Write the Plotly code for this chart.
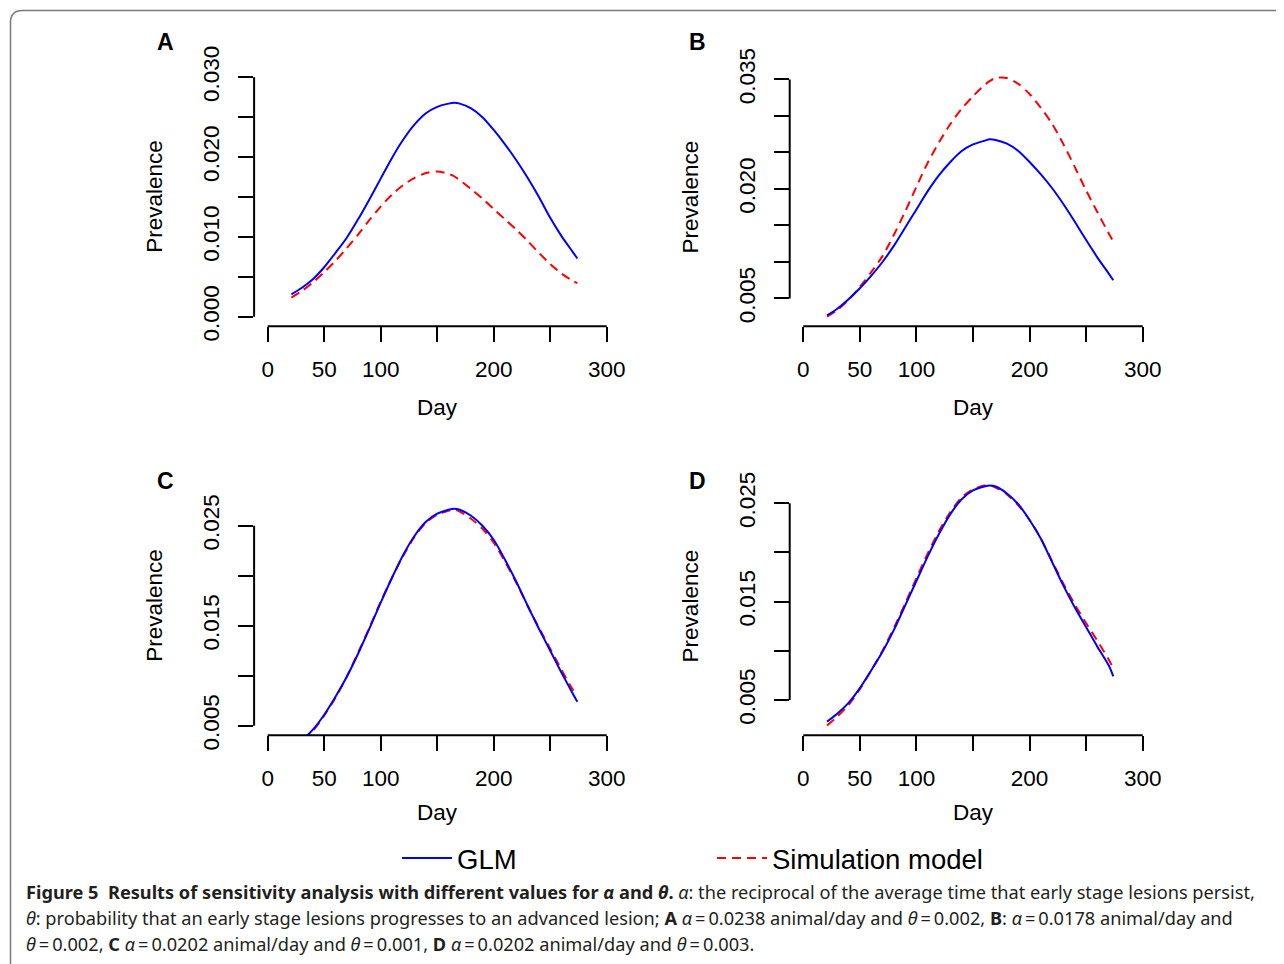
import plotly.graph_objects as go

# ---------------- data ----------------
DAYS = [21, 30, 40, 50, 60, 70, 80, 90, 100, 110, 120, 130, 140, 150, 160, 165,
        170, 180, 190, 200, 210, 220, 230, 240, 250, 260, 270, 274]

A_GLM = [0.0028, 0.0036, 0.0047, 0.0062, 0.0080, 0.0099, 0.0122, 0.0147, 0.0173, 0.0199,
         0.0222, 0.0241, 0.0255, 0.0263, 0.0267, 0.0268, 0.0267, 0.0261, 0.0250, 0.0234,
         0.0216, 0.0196, 0.0174, 0.0150, 0.0124, 0.0101, 0.0081, 0.0073]
A_SIM = [0.0024, 0.0032, 0.0043, 0.0056, 0.0070, 0.0086, 0.0103, 0.0121, 0.0138, 0.0153,
         0.0165, 0.0174, 0.0180, 0.0182, 0.0179, 0.0176, 0.0171, 0.0160, 0.0148, 0.0135,
         0.0122, 0.0109, 0.0095, 0.0080, 0.0066, 0.0054, 0.0045, 0.0042]

B_GLM = [0.0027, 0.0036, 0.0049, 0.0064, 0.0081, 0.0100, 0.0122, 0.0147, 0.0172, 0.0197,
         0.0219, 0.0237, 0.0252, 0.0261, 0.0266, 0.0268, 0.0267, 0.0262, 0.0252, 0.0237,
         0.0220, 0.0201, 0.0179, 0.0155, 0.0130, 0.0106, 0.0084, 0.0075]
B_SIM = [0.0025, 0.0034, 0.0048, 0.0066, 0.0086, 0.0108, 0.0137, 0.0169, 0.0203, 0.0236,
         0.0264, 0.0289, 0.0310, 0.0327, 0.0342, 0.0348, 0.0352, 0.0352, 0.0344, 0.0330,
         0.0311, 0.0289, 0.0261, 0.0230, 0.0198, 0.0168, 0.0139, 0.0128]

C_GLM = [0.0027, 0.0035, 0.0046, 0.0061, 0.0079, 0.0099, 0.0122, 0.0147, 0.0173, 0.0198,
         0.0221, 0.0240, 0.0254, 0.0262, 0.0266, 0.0267, 0.0266, 0.0260, 0.0250, 0.0236,
         0.0216, 0.0194, 0.0170, 0.0147, 0.0125, 0.0103, 0.0082, 0.0074]
C_SIM = [0.0026, 0.0034, 0.0045, 0.0060, 0.0078, 0.0099, 0.0123, 0.0148, 0.0174, 0.0198,
         0.0220, 0.0239, 0.0253, 0.0261, 0.0265, 0.0266, 0.0264, 0.0257, 0.0247, 0.0233,
         0.0214, 0.0193, 0.0170, 0.0148, 0.0127, 0.0106, 0.0086, 0.0081]

D_GLM = [0.0028, 0.0036, 0.0047, 0.0062, 0.0080, 0.0099, 0.0121, 0.0146, 0.0171, 0.0196,
         0.0219, 0.0239, 0.0254, 0.0263, 0.0267, 0.0268, 0.0267, 0.0260, 0.0249, 0.0233,
         0.0214, 0.0190, 0.0166, 0.0144, 0.0124, 0.0104, 0.0085, 0.0074]
D_SIM = [0.0024, 0.0033, 0.0045, 0.0061, 0.0080, 0.0100, 0.0123, 0.0148, 0.0174, 0.0199,
         0.0222, 0.0241, 0.0256, 0.0264, 0.0268, 0.0268, 0.0266, 0.0259, 0.0248, 0.0233,
         0.0214, 0.0191, 0.0168, 0.0147, 0.0128, 0.0110, 0.0091, 0.0082]

X_TICKS = [0, 50, 100, 150, 200, 250, 300]
X_TICKTEXT = ["0", "50", "100", "", "200", "", "300"]

A_YTICKS = [0.000, 0.005, 0.010, 0.015, 0.020, 0.025, 0.030]
A_YTEXT = ["0.000", "", "0.010", "", "0.020", "", "0.030"]
B_YTICKS = [0.005, 0.010, 0.015, 0.020, 0.025, 0.030, 0.035]
B_YTEXT = ["0.005", "", "", "0.020", "", "", "0.035"]
CD_YTICKS = [0.005, 0.010, 0.015, 0.020, 0.025]
CD_YTEXT = ["0.005", "", "0.015", "", "0.025"]

SERIES_NAMES = ["GLM", "Simulation model"]

# ---------------- layout helpers ----------------
OFF = 8                      # default body margin of the html page
W, H = 1284 - OFF, 964 - OFF
FONT = "Liberation Sans, Arial, sans-serif"
BLUE = "#0000FF"
RED = "#FF0000"


def px_x(p):
    return (p - OFF) / W


def px_y(p):
    return 1 - (p - OFF) / H


panels = [
    # label, glm, sim, yticks, ytext, yrange, xdomain(px), ydomain(px: top, bottom),
    # label pos(px), "Day" y(px)
    ("A", A_GLM, A_SIM, A_YTICKS, A_YTEXT, [-0.0012, 0.0312], (254.1, 620.3), (67.7, 326.3),
     (165, 42), 407),
    ("B", B_GLM, B_SIM, B_YTICKS, B_YTEXT, [0.00119, 0.03661], (789.7, 1156.3), (67.7, 326.3),
     (697, 42), 407),
    ("C", C_GLM, C_SIM, CD_YTICKS, CD_YTEXT, [0.00404, 0.0299], (254.1, 620.3), (476.7, 735.3),
     (165, 481), 812),
    ("D", D_GLM, D_SIM, CD_YTICKS, CD_YTEXT, [0.00141, 0.0277], (789.7, 1156.3), (476.7, 735.3),
     (697, 481), 812),
]

fig = go.Figure()
shapes = []
annotations = []
layout = {}

for i, (lab, glm, sim, yt, ytx, yr, xd, yd, lpos, dayy) in enumerate(panels):
    n = "" if i == 0 else str(i + 1)
    xa, ya = "x" + n, "y" + n
    fig.add_trace(go.Scatter(
        x=DAYS, y=sim, mode="lines", name=SERIES_NAMES[1],
        line=dict(color=RED, width=2, dash="9px,6px", shape="spline", smoothing=0.8),
        xaxis=xa, yaxis=ya, showlegend=(i == 0), legendgroup="sim", legendrank=2,
        hoverinfo="skip"))
    fig.add_trace(go.Scatter(
        x=DAYS, y=glm, mode="lines", name=SERIES_NAMES[0],
        line=dict(color=BLUE, width=2, shape="spline", smoothing=0.8),
        xaxis=xa, yaxis=ya, showlegend=(i == 0), legendgroup="glm", legendrank=1,
        hoverinfo="skip"))

    layout["xaxis" + n] = dict(
        domain=[px_x(xd[0]), px_x(xd[1])], range=[-12, 312], anchor=ya,
        tickmode="array", tickvals=X_TICKS, ticktext=X_TICKTEXT,
        ticks="outside", ticklen=15, tickwidth=2, tickcolor="black",
        showline=False, showgrid=False, zeroline=False, automargin=False,
        tickfont=dict(family=FONT, size=22.5, color="black"),
        ticklabelstandoff=8)
    layout["yaxis" + n] = dict(
        domain=[px_y(yd[1]), px_y(yd[0])], range=yr, anchor=xa,
        tickmode="array", tickvals=yt, ticktext=ytx,
        ticks="outside", ticklen=15, tickwidth=2, tickcolor="black",
        showline=False, showgrid=False, zeroline=False, tickangle=-90,
        automargin=False,
        tickfont=dict(family=FONT, size=22.5, color="black"),
        ticklabelstandoff=10)

    # axis lines spanning first to last tick (R style)
    shapes.append(dict(type="line", xref=xa, yref=ya + " domain",
                       x0=X_TICKS[0], x1=X_TICKS[-1], y0=0, y1=0,
                       line=dict(color="black", width=2)))
    shapes.append(dict(type="line", xref=xa + " domain", yref=ya,
                       x0=0, x1=0, y0=yt[0], y1=yt[-1],
                       line=dict(color="black", width=2)))

    # texts
    left = xd[0]
    xc = (xd[0] + xd[1]) / 2
    annotations.append(dict(text="Prevalence", xref="paper", yref="paper",
                            x=px_x(left - 99), y=px_y(yd[0] + 129),
                            xanchor="center", yanchor="middle",
                            textangle=-90, showarrow=False,
                            font=dict(family=FONT, size=22.5, color="black")))
    annotations.append(dict(text="Day", xref="paper", yref="paper",
                            x=px_x(xc), y=px_y(dayy),
                            xanchor="center", yanchor="middle",
                            showarrow=False,
                            font=dict(family=FONT, size=22.5, color="black")))
    annotations.append(dict(text="<b>%s</b>" % lab, xref="paper", yref="paper",
                            x=px_x(lpos[0]), y=px_y(lpos[1]),
                            xanchor="center", yanchor="middle",
                            showarrow=False,
                            font=dict(family=FONT, size=23, color="black")))

# caption
CAP_FONT = "Noto Sans, Open Sans, sans-serif"
cap_lines = [
    "<b>Figure 5  Results of sensitivity analysis with different values for <i>α</i> and <i>θ</i>.</b> "
    "<i>α</i>: the reciprocal of the average time that early stage lesions persist,",
    "<i>θ</i>: probability that an early stage lesions progresses to an advanced lesion; "
    "<b>A</b> <i>α</i>\u2009=\u20090.0238 animal/day and <i>θ</i>\u2009=\u20090.002, "
    "<b>B</b>: <i>α</i>\u2009=\u20090.0178 animal/day and",
    "<i>θ</i>\u2009=\u20090.002, <b>C</b> <i>α</i>\u2009=\u20090.0202 animal/day and "
    "<i>θ</i>\u2009=\u20090.001, <b>D</b> <i>α</i>\u2009=\u20090.0202 animal/day and "
    "<i>θ</i>\u2009=\u20090.003.",
]
for k, line in enumerate(cap_lines):
    annotations.append(dict(text=line, xref="paper", yref="paper",
                            x=px_x(24), y=px_y(892 + 26 * k),
                            xanchor="left", yanchor="middle", showarrow=False,
                            font=dict(family=CAP_FONT, size=18.2, color="#231f20")))

# rounded frame
r = 12
xl, ytop = 10.5, 10.5
shapes.append(dict(
    type="path", xref="paper", yref="paper",
    path="M %f,%f L %f,%f Q %f,%f %f,%f L %f,%f" % (
        px_x(xl), -0.1, px_x(xl), px_y(ytop + r), px_x(xl), px_y(ytop),
        px_x(xl + r), px_y(ytop), 1.1, px_y(ytop)),
    line=dict(color="#7a7a7a", width=1.5)))

fig.update_layout(
    template="none",
    width=W, height=H,
    margin=dict(l=0, r=0, t=0, b=0, pad=0, autoexpand=False),
    paper_bgcolor="white", plot_bgcolor="white",
    shapes=shapes, annotations=annotations,
    showlegend=True,
    legend=dict(orientation="h", x=px_x(397), y=px_y(858),
                xanchor="left", yanchor="middle",
                font=dict(family=FONT, size=27.5, color="black"),
                itemwidth=50,
                entrywidth=250, entrywidthmode="pixels",
                bgcolor="rgba(0,0,0,0)", borderwidth=0, traceorder="normal"),
    **layout,
)

fig.write_html("out.html")
